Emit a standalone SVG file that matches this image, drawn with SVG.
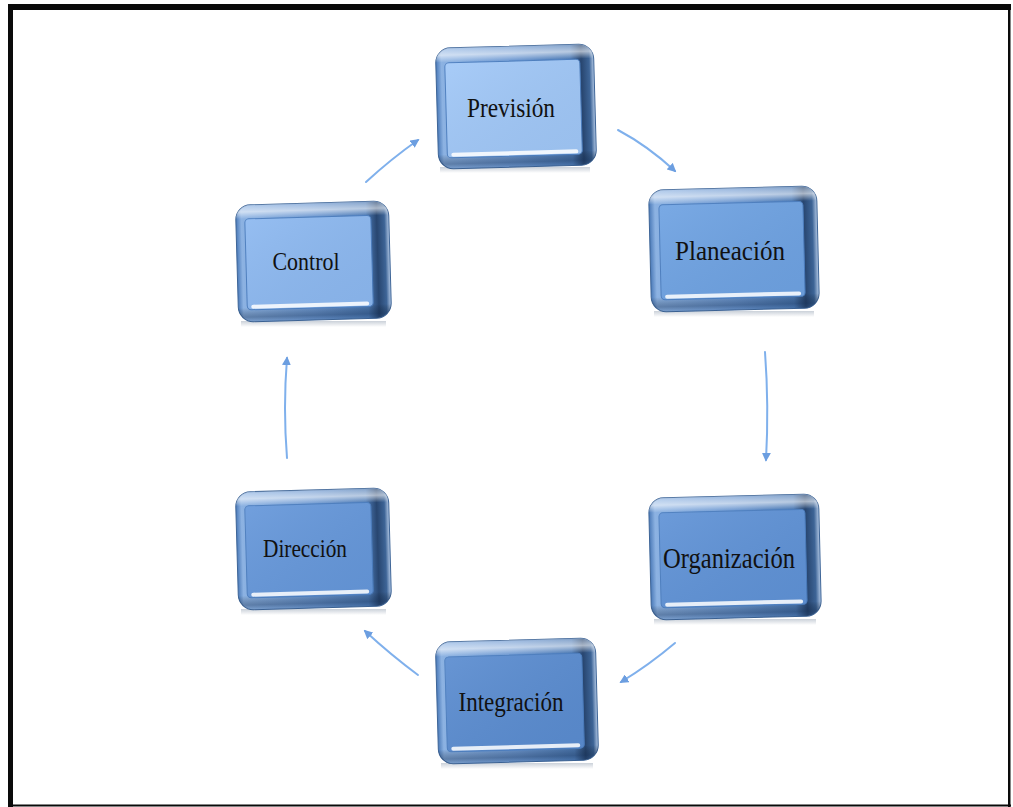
<svg xmlns="http://www.w3.org/2000/svg" width="1013" height="807" viewBox="0 0 1013 807">
  <defs>
    <!-- bevelled frame of each box: lit on the left, dark rim on the right -->
    <linearGradient id="bevelH" x1="0" y1="0" x2="1" y2="0">
      <stop offset="0" stop-color="#4B7AB8"/>
      <stop offset="0.035" stop-color="#8CB2E2"/>
      <stop offset="0.5" stop-color="#6C97D0"/>
      <stop offset="0.85" stop-color="#4E7BB5"/>
      <stop offset="0.92" stop-color="#284670"/>
      <stop offset="0.97" stop-color="#3D6496"/>
      <stop offset="1" stop-color="#B3C9E6"/>
    </linearGradient>
    <linearGradient id="bevelV" x1="0" y1="0" x2="0" y2="1">
      <stop offset="0" stop-color="#FFFFFF" stop-opacity="0.3"/>
      <stop offset="0.06" stop-color="#FFFFFF" stop-opacity="0.6"/>
      <stop offset="0.12" stop-color="#FFFFFF" stop-opacity="0"/>
      <stop offset="0.88" stop-color="#000000" stop-opacity="0"/>
      <stop offset="0.96" stop-color="#0A2040" stop-opacity="0.35"/>
      <stop offset="1" stop-color="#0A2040" stop-opacity="0.1"/>
    </linearGradient>
    <linearGradient id="reflect" x1="0" y1="0" x2="0" y2="1">
      <stop offset="0" stop-color="#8A98AA" stop-opacity="0.45"/>
      <stop offset="1" stop-color="#8A98AA" stop-opacity="0"/>
    </linearGradient>
    <linearGradient id="faceShade" x1="0" y1="0" x2="1" y2="1">
      <stop offset="0" stop-color="#FFFFFF" stop-opacity="0.08"/>
      <stop offset="1" stop-color="#000000" stop-opacity="0.04"/>
    </linearGradient>
    <marker id="head" viewBox="0 0 10 10" refX="8" refY="5" markerWidth="4.5" markerHeight="4.5" orient="auto" markerUnits="strokeWidth">
      <path d="M0,0 L10,5 L0,10 Z" fill="#6C9EE0"/>
    </marker>
    <style>
      .body { fill: url(#bevelH); stroke: #3E6597; stroke-width: 1; }
      .light { fill: url(#bevelV); }
      .face { stroke: #4C7EBF; stroke-width: 1; }
      .faceShade { fill: url(#faceShade); }
      .gloss { fill: #FFFFFF; opacity: 0.85; }
      .reflect { fill: url(#reflect); }
      .label { font-family: "Liberation Serif", "Times New Roman", serif; fill: #111111; text-anchor: middle; }
      .link { fill: none; stroke: #7FB0EC; stroke-width: 2; stroke-linecap: round; marker-end: url(#head); }
    </style>
  </defs>

  <rect width="1013" height="807" fill="#FFFFFF"/>

  <!-- outer frame -->
  <g id="frame" fill="#0A0A0A">
    <rect x="8" y="4" width="1003" height="6"/>
    <rect x="8" y="4" width="5" height="803"/>
    <rect x="1008" y="4" width="2.5" height="803"/>
    <rect x="8" y="804.5" width="1003" height="2"/>
  </g>

  <!-- cycle connectors -->
  <g id="connectors">
    <path class="link" d="M618,130 Q648,146 675,171"/>
    <path class="link" d="M765,352 Q769,406 766,460"/>
    <path class="link" d="M675,643 Q649,665 621,682"/>
    <path class="link" d="M418,675 Q391,655 365,631"/>
    <path class="link" d="M287,458 Q283,408 287,358"/>
    <path class="link" d="M366,182 Q391,159 418,140"/>
  </g>

  <!-- Previsión -->
  <g id="node-prevision">
    <rect class="reflect" x="440" y="167" width="150" height="6"/>
    <g transform="rotate(-1.6 516 106)">
      <rect class="body" x="437" y="46" width="158" height="121" rx="15"/>
      <rect class="light" x="437" y="46" width="158" height="121" rx="15"/>
      <rect class="face" x="446" y="61" width="135" height="95" rx="4" fill="#A0C7F7"/>
      <rect class="faceShade" x="446" y="61" width="135" height="95" rx="4"/>
      <rect class="gloss" x="450" y="151" width="127" height="4" rx="2"/>
    </g>
    <text class="label" x="511" y="117" font-size="28" textLength="88" lengthAdjust="spacingAndGlyphs">Previsión</text>
  </g>

  <!-- Planeación -->
  <g id="node-planeacion">
    <rect class="reflect" x="654" y="311" width="160" height="6"/>
    <g transform="rotate(-1.4 734 249)">
      <rect class="body" x="650" y="188" width="168" height="122" rx="15"/>
      <rect class="light" x="650" y="188" width="168" height="122" rx="15"/>
      <rect class="face" x="660" y="203" width="144" height="95" rx="4" fill="#6EA2E2"/>
      <rect class="faceShade" x="660" y="203" width="144" height="95" rx="4"/>
      <rect class="gloss" x="664" y="293" width="136" height="4" rx="2"/>
    </g>
    <text class="label" x="730" y="260" font-size="27" textLength="110" lengthAdjust="spacingAndGlyphs">Planeación</text>
  </g>

  <!-- Control -->
  <g id="node-control">
    <rect class="reflect" x="241" y="321" width="145" height="6"/>
    <g transform="rotate(-1.6 313 261)">
      <rect class="body" x="237" y="203" width="153" height="117" rx="15"/>
      <rect class="light" x="237" y="203" width="153" height="117" rx="15"/>
      <rect class="face" x="246" y="217" width="126" height="91" rx="4" fill="#8CB8F0"/>
      <rect class="faceShade" x="246" y="217" width="126" height="91" rx="4"/>
      <rect class="gloss" x="250" y="303" width="118" height="4" rx="2"/>
    </g>
    <text class="label" x="306" y="270" font-size="25" textLength="67" lengthAdjust="spacingAndGlyphs">Control</text>
  </g>

  <!-- Organización -->
  <g id="node-organizacion">
    <rect class="reflect" x="654" y="619" width="162" height="6"/>
    <g transform="rotate(-1.4 735 557)">
      <rect class="body" x="650" y="496" width="170" height="122" rx="15"/>
      <rect class="light" x="650" y="496" width="170" height="122" rx="15"/>
      <rect class="face" x="660" y="511" width="146" height="95" rx="4" fill="#5F92D6"/>
      <rect class="faceShade" x="660" y="511" width="146" height="95" rx="4"/>
      <rect class="gloss" x="664" y="601" width="138" height="4" rx="2"/>
    </g>
    <text class="label" x="729" y="568" font-size="29" textLength="132" lengthAdjust="spacingAndGlyphs">Organización</text>
  </g>

  <!-- Dirección -->
  <g id="node-direccion">
    <rect class="reflect" x="241" y="609" width="145" height="6"/>
    <g transform="rotate(-1.6 313 549)">
      <rect class="body" x="237" y="490" width="153" height="118" rx="15"/>
      <rect class="light" x="237" y="490" width="153" height="118" rx="15"/>
      <rect class="face" x="246" y="504" width="126" height="92" rx="4" fill="#6597DA"/>
      <rect class="faceShade" x="246" y="504" width="126" height="92" rx="4"/>
      <rect class="gloss" x="250" y="591" width="118" height="4" rx="2"/>
    </g>
    <text class="label" x="305" y="557" font-size="25" textLength="84" lengthAdjust="spacingAndGlyphs">Dirección</text>
  </g>

  <!-- Integración -->
  <g id="node-integracion">
    <rect class="reflect" x="441" y="763" width="152" height="6"/>
    <g transform="rotate(-1.6 517 701)">
      <rect class="body" x="437" y="640" width="160" height="122" rx="15"/>
      <rect class="light" x="437" y="640" width="160" height="122" rx="15"/>
      <rect class="face" x="446" y="655" width="137" height="95" rx="4" fill="#5A8CD0"/>
      <rect class="faceShade" x="446" y="655" width="137" height="95" rx="4"/>
      <rect class="gloss" x="450" y="745" width="129" height="4" rx="2"/>
    </g>
    <text class="label" x="511" y="711" font-size="27" textLength="105" lengthAdjust="spacingAndGlyphs">Integración</text>
  </g>
</svg>
